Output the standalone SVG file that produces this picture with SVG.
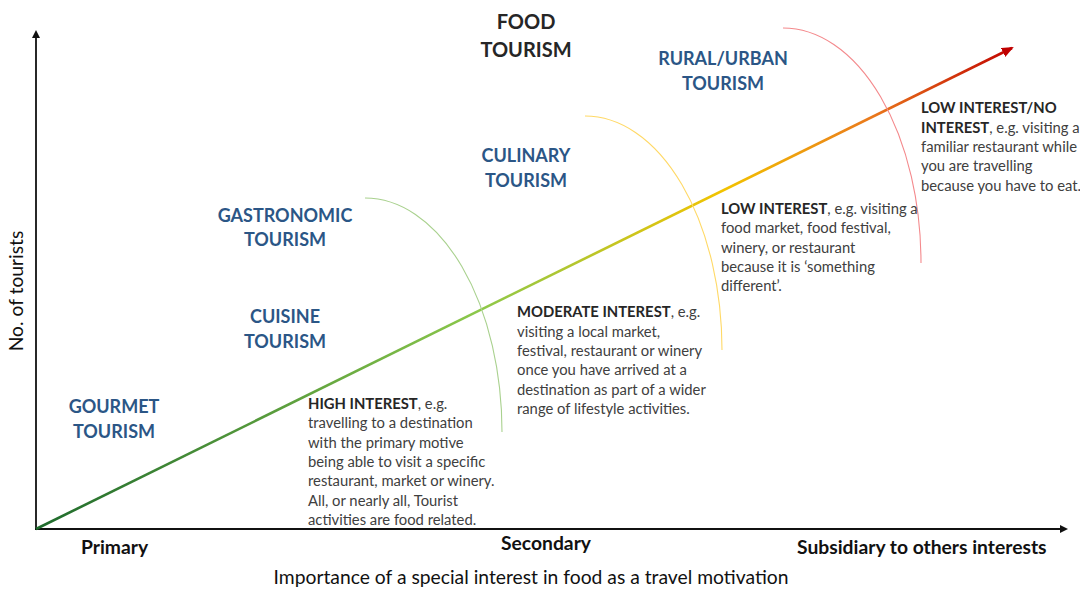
<svg xmlns="http://www.w3.org/2000/svg" width="1080" height="591" viewBox="0 0 1080 591">
<style>
text{font-family:Lato,"Liberation Sans",sans-serif}
.t{font-size:18px;font-weight:bold;fill:#2b5686;text-anchor:middle}
.tf{font-size:20px;font-weight:bold;fill:#262626;text-anchor:middle}
.b{font-size:14.8px;fill:#404040}
.b tspan.h{font-weight:bold;fill:#262626}
.ax{font-size:19.3px;font-weight:bold;fill:#111}
.al{font-size:19.3px;fill:#111}
.arc{fill:none;stroke-width:1.1}
</style>
<defs>
<linearGradient id="g" gradientUnits="userSpaceOnUse" x1="36" y1="529" x2="1017" y2="45">
<stop offset="0" stop-color="#1e6a2c"/>
<stop offset="0.45" stop-color="#8cc84b"/>
<stop offset="0.7" stop-color="#f2c300"/>
<stop offset="0.85" stop-color="#ea7a1c"/>
<stop offset="1" stop-color="#c00000"/>
</linearGradient>
<marker id="ak" markerWidth="8" markerHeight="8" refX="6" refY="4" orient="auto" markerUnits="userSpaceOnUse">
<path d="M0,0 L8,4 L0,8 Z" fill="#111"/>
</marker>
<marker id="ar" markerWidth="12" markerHeight="10" refX="10" refY="5" orient="auto" markerUnits="userSpaceOnUse">
<path d="M0,0 L12,5 L0,10 Z" fill="#c00000"/>
</marker>
</defs>
<g id="axes" stroke="#111" stroke-width="1.8">
<line x1="36" y1="530" x2="36" y2="32" marker-end="url(#ak)"/>
<line x1="35" y1="529" x2="1066" y2="529" marker-end="url(#ak)"/>
</g>
<g id="connectors">
<line x1="36" y1="529" x2="1012" y2="48" stroke="url(#g)" stroke-width="2.6" marker-end="url(#ar)"/>
<path class="arc" d="M365,198 A137,234 0 0 1 502,432" stroke="#a9d18e"/>
<path class="arc" d="M585,116 A137,234 0 0 1 722,350" stroke="#ffd966"/>
<path class="arc" d="M783,28 A138,235 0 0 1 921,263" stroke="#f4898c"/>
</g>
<g id="food-tourism"><text class="tf" x="526" y="29">FOOD</text><text class="tf" x="526" y="57">TOURISM</text></g>
<g id="rural-urban"><text class="t" x="723" y="65">RURAL/URBAN</text><text class="t" x="723" y="90">TOURISM</text></g>
<g id="culinary"><text class="t" x="526" y="162">CULINARY</text><text class="t" x="526" y="187">TOURISM</text></g>
<g id="gastronomic"><text class="t" x="285" y="222">GASTRONOMIC</text><text class="t" x="285" y="246">TOURISM</text></g>
<g id="cuisine"><text class="t" x="285" y="323">CUISINE</text><text class="t" x="285" y="348">TOURISM</text></g>
<g id="gourmet"><text class="t" x="114" y="413">GOURMET</text><text class="t" x="114" y="438">TOURISM</text></g>
<g id="high-interest"><text class="b">
<tspan x="308" y="409"><tspan class="h">HIGH INTEREST</tspan>, e.g.</tspan>
<tspan x="308" y="428.3">travelling to a destination</tspan>
<tspan x="308" y="447.6">with the primary motive</tspan>
<tspan x="308" y="466.9">being able to visit a specific</tspan>
<tspan x="308" y="486.2">restaurant, market or winery.</tspan>
<tspan x="308" y="505.5">All, or nearly all, Tourist</tspan>
<tspan x="308" y="524.8">activities are food related.</tspan>
</text></g>
<g id="moderate-interest"><text class="b">
<tspan x="517" y="317.3"><tspan class="h">MODERATE INTEREST</tspan>, e.g.</tspan>
<tspan x="517" y="336.6">visiting a local market,</tspan>
<tspan x="517" y="355.9">festival, restaurant or winery</tspan>
<tspan x="517" y="375.2">once you have arrived at a</tspan>
<tspan x="517" y="394.5">destination as part of a wider</tspan>
<tspan x="517" y="413.8">range of lifestyle activities.</tspan>
</text></g>
<g id="low-interest"><text class="b">
<tspan x="721" y="214"><tspan class="h">LOW INTEREST</tspan>, e.g. visiting a</tspan>
<tspan x="721" y="233.3">food market, food festival,</tspan>
<tspan x="721" y="252.6">winery, or restaurant</tspan>
<tspan x="721" y="271.9">because it is ‘something</tspan>
<tspan x="721" y="291.2">different’.</tspan>
</text></g>
<g id="no-interest"><text class="b">
<tspan x="921" y="113.3"><tspan class="h">LOW INTEREST/NO</tspan></tspan>
<tspan x="921" y="132.6"><tspan class="h">INTEREST</tspan>, e.g. visiting a</tspan>
<tspan x="921" y="151.9">familiar restaurant while</tspan>
<tspan x="921" y="171.2">you are travelling</tspan>
<tspan x="921" y="190.5">because you have to eat.</tspan>
</text></g>
<g id="axis-labels">
<text class="ax" x="81" y="554">Primary</text>
<text class="ax" x="546" y="550" text-anchor="middle">Secondary</text>
<text class="ax" x="797" y="554">Subsidiary to others interests</text>
<text class="al" x="531" y="584" text-anchor="middle">Importance of a special interest in food as a travel motivation</text>
<text class="al" transform="translate(23,291) rotate(-90)" text-anchor="middle">No. of tourists</text>
</g>
</svg>
